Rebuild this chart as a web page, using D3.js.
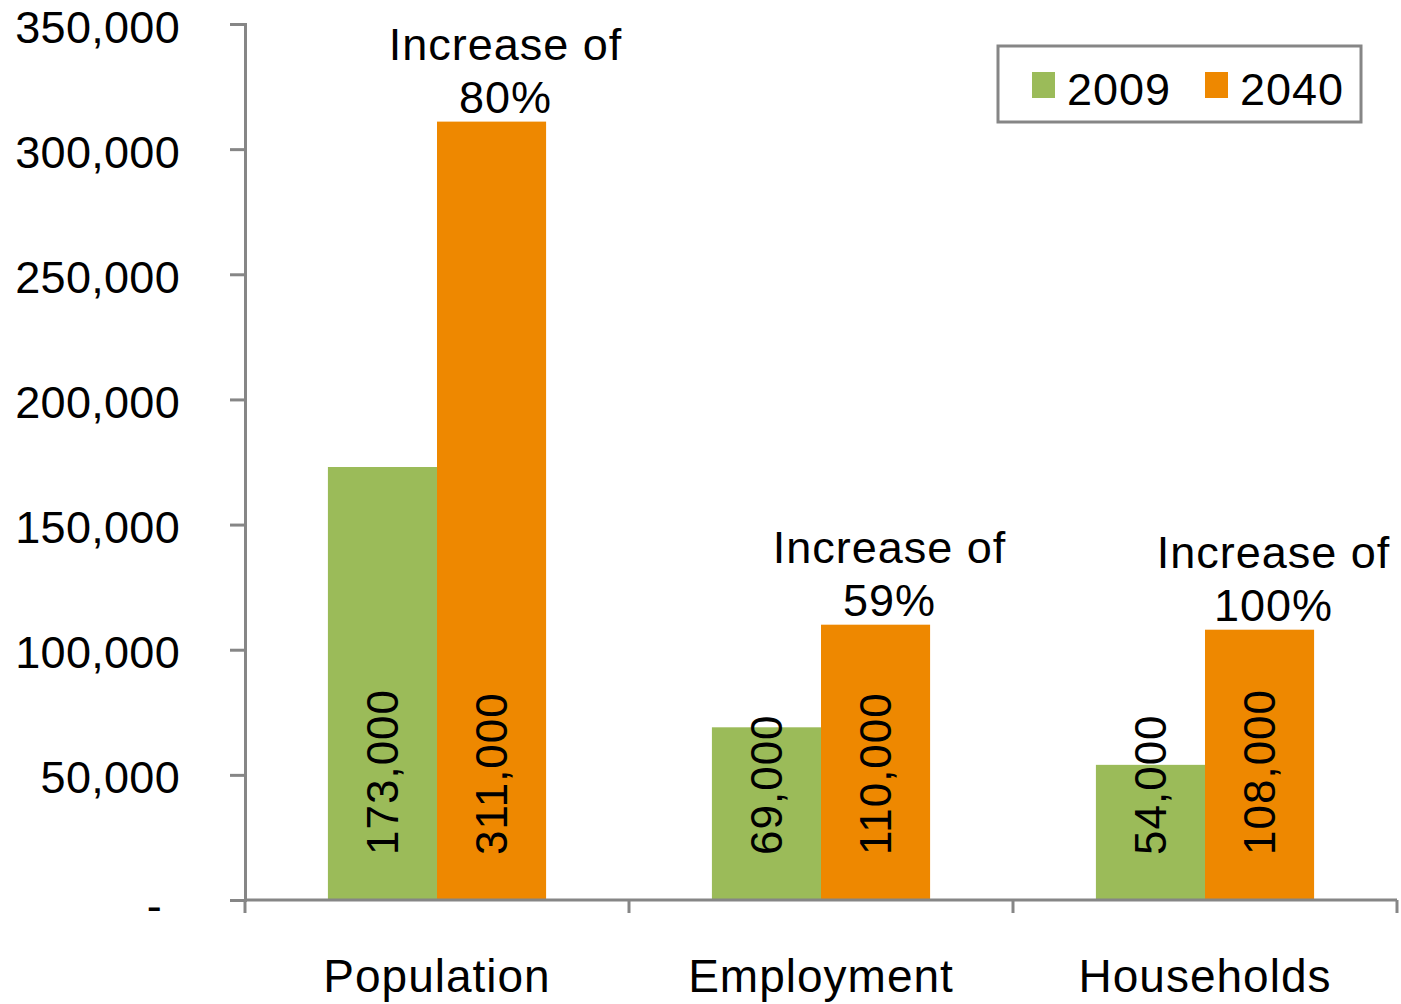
<!DOCTYPE html>
<html>
<head>
<meta charset="utf-8">
<script src="https://cdn.jsdelivr.net/npm/d3@7"></script>
<style>
  html, body { margin: 0; padding: 0; background: #fff; }
  svg { display: block; font-family: "Liberation Sans", Arial, sans-serif; letter-spacing: 1px; }
</style>
</head>
<body>
<svg id="chart" width="1401" height="1004"></svg>
<script>
// ── Data ────────────────────────────────────────────────────────────────
const categories = ['Population', 'Employment', 'Households'];
const series     = ['2009', '2040'];
const values2009 = [173000, 69000, 54000];
const values2040 = [311000, 110000, 108000];
const increases  = ['80%', '59%', '100%'];
const yTicks     = [0, 50000, 100000, 150000, 200000, 250000, 300000, 350000];

const COLORS = { '2009': '#9bbb59', '2040': '#ee8800' };
const AXIS   = '#868686';

const svg = d3.select('#chart');

// Scales
const y  = d3.scaleLinear().domain([0, 350000]).range([900, 24]);
const x0 = d3.scaleBand().domain(categories).range([245, 1397]);
const x1 = d3.scaleBand().domain(series).range([0, x0.bandwidth()]).paddingOuter(0.76);

const rows = categories.map((c, i) => ({
  cat: c,
  vals: [
    { s: '2009', v: values2009[i] },
    { s: '2040', v: values2040[i] }
  ],
  inc: increases[i]
}));

// ── Bars ────────────────────────────────────────────────────────────────
const groups = svg.append('g').selectAll('g')
  .data(rows)
  .join('g')
  .attr('transform', d => `translate(${x0(d.cat)},0)`);

groups.selectAll('rect')
  .data(d => d.vals)
  .join('rect')
  .attr('x', d => x1(d.s))
  .attr('y', d => y(d.v))
  .attr('width', x1.bandwidth())
  .attr('height', d => y(0) - y(d.v))
  .attr('fill', d => COLORS[d.s]);

// Rotated value labels (read bottom-up)
groups.selectAll('text.val')
  .data(d => d.vals)
  .join('text')
  .attr('class', 'val')
  .attr('transform', d => `translate(${x1(d.s) + x1.bandwidth() / 2},855) rotate(-90)`)
  .attr('dy', '0.36em')
  .attr('font-size', 44)
  .attr('fill', '#000')
  .text(d => d3.format(',')(d.v));

// "Increase of" notes above the 2040 bar
const notes = groups.append('text')
  .attr('text-anchor', 'middle')
  .attr('font-size', 45)
  .attr('fill', '#000');
notes.append('tspan')
  .attr('x', x1('2040') + x1.bandwidth() / 2 + 14)
  .attr('y', d => y(d.vals[1].v) - 62)
  .text('Increase of');
notes.append('tspan')
  .attr('x', x1('2040') + x1.bandwidth() / 2 + 14)
  .attr('y', d => y(d.vals[1].v) - 9)
  .text(d => d.inc);

// ── Y axis ──────────────────────────────────────────────────────────────
const yAxis = svg.append('g')
  .attr('transform', 'translate(245,0)')
  .call(d3.axisLeft(y)
    .tickValues(yTicks)
    .tickSize(15)
    .tickPadding(50)
    .tickFormat(d => d === 0 ? '-' : d3.format(',')(d)));

yAxis.select('.domain').attr('stroke', AXIS).attr('stroke-width', 3);
yAxis.selectAll('.tick line').attr('stroke', AXIS).attr('stroke-width', 3);
yAxis.selectAll('.tick text')
  .attr('font-size', 45)
  .attr('font-family', '"Liberation Sans", Arial, sans-serif')
  .attr('letter-spacing', '0.3px')
  .attr('dy', '0.4em')
  .attr('fill', '#000');
yAxis.selectAll('.tick text').filter(d => d === 0)
  .attr('dx', -18)
  .attr('dy', '0.45em');

// ── X axis (ticks sit on category boundaries) ───────────────────────────
const xAxis = svg.append('g');
xAxis.append('line')
  .attr('x1', x0.range()[0]).attr('x2', x0.range()[1])
  .attr('y1', y(0)).attr('y2', y(0))
  .attr('stroke', AXIS).attr('stroke-width', 3);

const bounds = categories.map(c => x0(c)).concat([x0.range()[1]]);
xAxis.selectAll('line.tk')
  .data(bounds)
  .join('line')
  .attr('class', 'tk')
  .attr('x1', d => d).attr('x2', d => d)
  .attr('y1', y(0)).attr('y2', y(0) + 13)
  .attr('stroke', AXIS).attr('stroke-width', 3);

xAxis.selectAll('text')
  .data(categories)
  .join('text')
  .attr('x', d => x0(d) + x0.bandwidth() / 2)
  .attr('y', 992)
  .attr('text-anchor', 'middle')
  .attr('font-size', 46)
  .attr('fill', '#000')
  .text(d => d);

// ── Legend ──────────────────────────────────────────────────────────────
const legend = svg.append('g');
legend.append('rect')
  .attr('x', 998).attr('y', 46)
  .attr('width', 363).attr('height', 76)
  .attr('fill', '#fff')
  .attr('stroke', AXIS).attr('stroke-width', 3);

const items = legend.selectAll('g')
  .data(series)
  .join('g')
  .attr('transform', (d, i) => `translate(${1032 + i * 173},72)`);
items.append('rect')
  .attr('width', 23).attr('height', 26)
  .attr('fill', d => COLORS[d]);
items.append('text')
  .attr('x', 35).attr('y', 33)
  .attr('font-size', 45)
  .attr('fill', '#000')
  .text(d => d);
</script>
</body>
</html>
